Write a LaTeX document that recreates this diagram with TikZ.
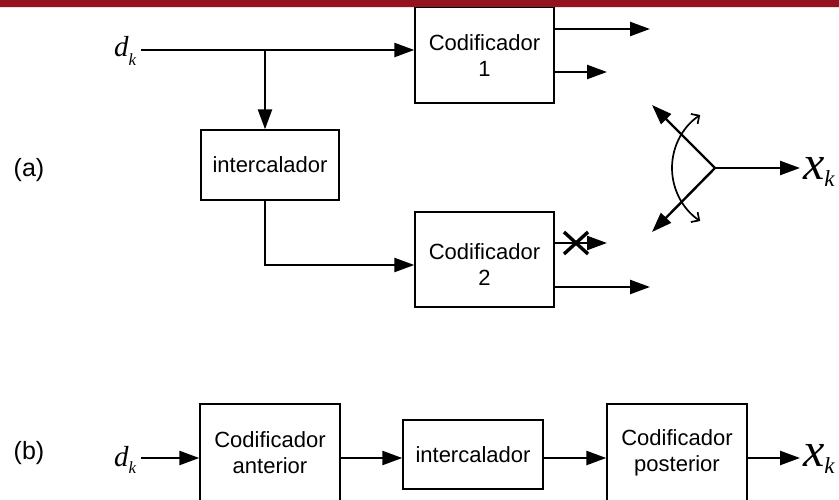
\documentclass[tikz,border=0pt]{standalone}
\usepackage{fontspec}
\setmainfont{Liberation Sans}
\newfontfamily\tms{Liberation Serif}
\usetikzlibrary{arrows.meta,calc}
\definecolor{barred}{HTML}{93141F}
% italic symbol with a lowered subscript k: {letter}{size}{subsize}{drop}
\newcommand{\subsym}[4]{{\fontsize{#2}{#2}\selectfont\tms\itshape #1}\raisebox{-#4}{\fontsize{#3}{#3}\selectfont\tms\itshape k}}
\begin{document}
\begin{tikzpicture}[x=1pt,y=-1pt,
  blk/.style={draw, line width=1.4pt, inner sep=0pt, align=center,
    font=\fontsize{22}{26}\selectfont},
  txt/.style={inner sep=0pt, align=center, font=\fontsize{22}{26}\selectfont},
  wire/.style={line width=2.4pt},
  arr/.style={wire, -{Triangle[length=20pt,width=14pt]}},
  sym/.style={inner sep=0pt, outer sep=0pt, anchor=base west},
  tag/.style={inner sep=0pt, font=\fontsize{25}{25}\selectfont}]
\path[use as bounding box] (0,0) rectangle (839,500);
\begin{scope}
\clip (0,0) rectangle (839,500);
% header bar
\fill[barred] (0,0) rectangle (839,7);
\draw[barred!15, line width=0.8pt] (0,7.8) -- (839,7.8);

% ---------- (a) parallel concatenation ----------
\node[tag] (la) at (29,170) {(a)};
\node[sym] (dk) at (114,57) {\subsym{d}{29}{17}{9pt}};
\node[blk, minimum width=139pt, minimum height=95.5pt] (c1) at (484.5,55.25) {Codificador\\1};
\node[blk, minimum width=138pt, minimum height=70pt] (il) at (270,165) {intercalador};
\node[blk, minimum width=139pt, minimum height=95pt] (c2) at (484.5,259.5) {};
\node[txt] (c2t) at (484.5,265) {Codificador\\2};
\node[sym] (xk) at (803,180) {\subsym{x}{48}{23}{7pt}};

\coordinate (j) at (265,50);
\coordinate (dkr) at ($(dk.east)+(5,0)$);
\coordinate (c2in) at ([yshift=-5.5pt]c2.west);
\draw[arr] (dkr |- j) -- (c1.west |- j);
\draw[arr] (j) -- (j |- il.north);
\draw[arr] (j |- il.south) |- (c2in);

% encoder outputs
\coordinate (o1) at (650,29);
\coordinate (o2) at (607,72);
\coordinate (o3) at (607,243);
\coordinate (o4) at (650,287);
\draw[arr] (c1.east |- o1) -- (o1);
\draw[arr] (c1.east |- o2) -- (o2);
\draw[arr] (c2.east |- o3) -- (o3);
\draw[arr] (c2.east |- o4) -- (o4);
% punctured output
\coordinate (xm) at (576,243);
\draw[line width=3.4pt] ($(xm)+(-12,-11)$) -- ($(xm)+(12,11)$)
                        ($(xm)+(-12,11)$) -- ($(xm)+(12,-11)$);

% output switch
\coordinate (sw) at (715,168);
\coordinate (up) at (652,105);
\coordinate (dn) at (652,232);
\coordinate (ac) at (736,168);
\draw[arr] (sw) -- (up);
\draw[arr] (sw) -- (dn);
\draw[arr] (sw) -- ([xshift=-3pt]xk.west |- sw);
\draw[line width=1.7pt, {Straight Barb[length=6pt,width=12pt]}-{Straight Barb[length=6pt,width=12pt]}]
  (ac) ++(236:64) arc[start angle=236, end angle=124, radius=64];

% ---------- (b) serial concatenation ----------
\node[tag] (lb) at (29,453) {(b)};
\node[sym] (dkb) at (114,466) {\subsym{d}{29}{17}{7pt}};
\node[blk, minimum width=140pt, minimum height=98pt] (b1) at (270,453) {Codificador\\anterior};
\node[blk, minimum width=140pt, minimum height=69pt] (b2) at (473,454.5) {intercalador};
\node[blk, minimum width=140pt, minimum height=98pt] (b3) at (677,453) {Codificador\\posterior};
\node[sym] (xkb) at (803,466) {\subsym{x}{48}{23}{7pt}};

\coordinate (row) at (0,458);
\coordinate (dkbr) at ($(dkb.east)+(5,0)$);
\draw[arr] (dkbr |- row) -- (b1.west |- row);
\draw[arr] (b1.east |- row) -- (b2.west |- row);
\draw[arr] (b2.east |- row) -- (b3.west |- row);
\draw[arr] (b3.east |- row) -- ([xshift=-3pt]xkb.west |- row);
\end{scope}
\end{tikzpicture}
\end{document}
